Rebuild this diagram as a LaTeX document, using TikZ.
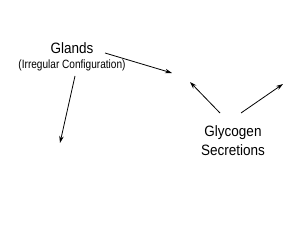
\documentclass[tikz,border=0pt]{standalone}
\usepackage{fontspec}
\setmainfont{Liberation Sans}
\newfontfamily\mainnarrow[FakeStretch=0.9]{Liberation Sans}
\newfontfamily\subnarrow[FakeStretch=0.84]{Liberation Sans}
\usetikzlibrary{arrows.meta}
\begin{document}
\begin{tikzpicture}[x=1pt,y=-1pt,
  lbl/.style={inner sep=0pt,font=\mainnarrow\fontsize{15}{19}\selectfont},
  sublbl/.style={inner sep=0pt,font=\subnarrow\fontsize{12}{14}\selectfont},
  arr/.style={-{Stealth[length=7pt,width=4.5pt]},line width=0.8pt}]
\useasboundingbox (0,0) rectangle (300,240);
\node[lbl] (glands) at (72,48) {Glands};
\node[sublbl] (irr) at (72,65.5) {(Irregular Configuration)};
\node[lbl,align=center] (glyc) at (233,141) {Glycogen\\Secretions};
\coordinate (t1) at (105,53);
\coordinate (h1) at (172,73);
\coordinate (t2) at (75,76);
\coordinate (h2) at (60,143);
\coordinate (t3) at (220,113);
\coordinate (h3) at (190,82);
\coordinate (t4) at (241,113);
\coordinate (h4) at (283,84);
\draw[arr] (t1) -- (h1);
\draw[arr] (t2) -- (h2);
\draw[arr] (t3) -- (h3);
\draw[arr] (t4) -- (h4);
\end{tikzpicture}
\end{document}
